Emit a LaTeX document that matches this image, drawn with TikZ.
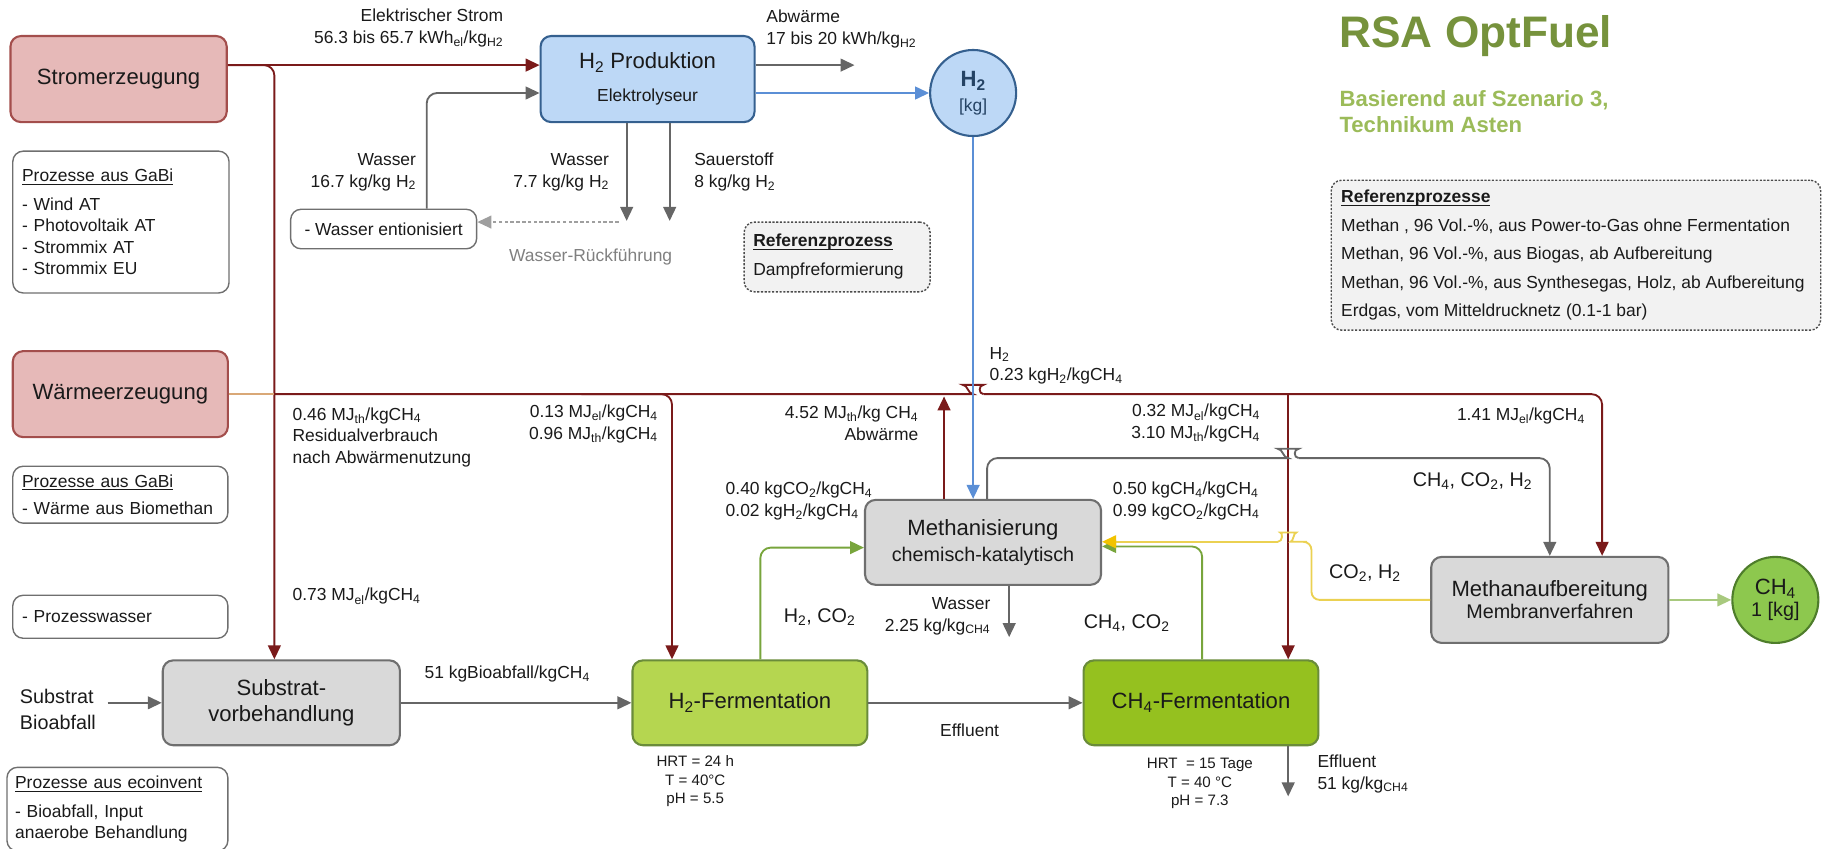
\documentclass[tikz,border=0pt]{standalone}
\usepackage{fontspec}
\setmainfont{Liberation Sans}
\usetikzlibrary{arrows.meta}
\definecolor{txt}{HTML}{1A1A1A}
\definecolor{redfill}{HTML}{E6B9B8}
\definecolor{reddraw}{HTML}{A34E4C}
\definecolor{brownln}{HTML}{7A1A1A}
\definecolor{tanln}{HTML}{D9A877}
\definecolor{bluefill}{HTML}{BDD8F6}
\definecolor{bluedraw}{HTML}{35608F}
\definecolor{blueln}{HTML}{5B8FD6}
\definecolor{grayfill}{HTML}{D9D9D9}
\definecolor{graydraw}{HTML}{6F6F6F}
\definecolor{grayln}{HTML}{666666}
\definecolor{ltgrayfill}{HTML}{F2F2F2}
\definecolor{h2green}{HTML}{B5D650}
\definecolor{ch4green}{HTML}{95C11F}
\definecolor{greendraw}{HTML}{6A8C3A}
\definecolor{greenln}{HTML}{78A53C}
\definecolor{yellowln}{HTML}{EBD152}
\definecolor{yellowhd}{HTML}{F2C300}
\definecolor{circgreen}{HTML}{8DC84E}
\definecolor{circgreendraw}{HTML}{4E7D2B}
\definecolor{ltgreenln}{HTML}{A8C97E}
\definecolor{titlegreen}{HTML}{76923C}
\definecolor{subgreen}{HTML}{9BBB59}
\definecolor{rueckgray}{HTML}{808080}
\newcommand\fl{\fontsize{15}{18.5}\selectfont}
\newcommand\fm{\fontsize{17}{20}\selectfont}
\newcommand\fb{\fontsize{19}{22}\selectfont}
\newcommand\fh{\fontsize{13}{16}\selectfont}
\newcommand\sbs[1]{\textsubscript{#1}}
\newcommand\myul[1]{\setbox0\hbox{#1}\rlap{\rule[-2.6pt]{\wd0}{1pt}}\box0}
\begin{document}
\begin{tikzpicture}[x=1pt,y=-1pt,
  every node/.style={text=txt},
  lbl/.style={font=\fl, inner sep=0pt},
  procbox/.style={draw, rounded corners=9pt, line width=1.8pt, inner sep=0pt, align=center, font=\fb},
  redbox/.style={procbox, fill=redfill, draw=reddraw},
  graybox/.style={procbox, fill=grayfill, draw=graydraw},
  infobox/.style={draw=graydraw, rounded corners=9pt, line width=1.2pt, fill=white, inner sep=0pt, align=left, font=\fl},
  refbox/.style={draw=black!70, dash pattern=on 1.8pt off 1.4pt, rounded corners=9pt, line width=1.2pt, fill=ltgrayfill, inner sep=0pt, align=left, font=\fl},
  conn/.style={line width=1.6pt, rounded corners=9pt},
  tip/.style={-{Triangle[length=12pt,width=11pt]}},
  brn/.style={conn, draw=brownln},
  gry/.style={conn, draw=grayln}]
\useasboundingbox (0,0) rectangle (1568,730);

% ---------- nodes ----------
\node[redbox, minimum width=186pt, minimum height=74pt] (strom) at (102,68) {Stromerzeugung};
\node[infobox, minimum width=186pt, minimum height=122pt, text width=170pt] (gabi1) at (104,191)
  {\myul{Prozesse aus GaBi}\\[6pt]- Wind AT\\- Photovoltaik AT\\- Strommix AT\\- Strommix EU};
\node[redbox, minimum width=185pt, minimum height=74pt] (warme) at (103.5,339) {Wärmeerzeugung};
\node[infobox, minimum width=185pt, minimum height=49pt, text width=169pt] (gabi2) at (103.5,425.5)
  {\myul{Prozesse aus GaBi}\\[5pt]- Wärme aus Biomethan};
\node[infobox, minimum width=185pt, minimum height=37pt, text width=169pt] (pw) at (103.5,530.5) {- Prozesswasser};
\node[infobox, minimum width=190pt, minimum height=72pt, text width=176pt] (eco) at (101,696)
  {\myul{Prozesse aus ecoinvent}\\[6pt]- Bioabfall, Input\\anaerobe Behandlung};

\node[procbox, fill=bluefill, draw=bluedraw, minimum width=184pt, minimum height=74pt] (h2p) at (557,68)
  {H\sbs{2} Produktion\\[6pt]{\fl Elektrolyseur}};
\node[circle, draw=bluedraw, fill=bluefill, line width=1.8pt, minimum size=74pt, inner sep=0pt, align=center,
  font=\fb, text=bluedraw!70!black] (h2c) at (837,80) {\textbf{H\sbs{2}}\\[-1pt]{\fl [kg]}};
\node[infobox, minimum width=160pt, minimum height=34pt] (went) at (330,197) {- Wasser entionisiert};
\node[refbox, minimum width=160pt, minimum height=60pt, text width=144pt] (refp) at (720,221)
  {\myul{\textbf{Referenzprozess}}\\[6.5pt]Dampfreformierung};

\node[anchor=west, inner sep=0pt, font=\fontsize{38}{42}\selectfont\bfseries, text=titlegreen] (title) at (1152,31) {RSA OptFuel};
\node[anchor=west, inner sep=0pt, align=left, font=\fontsize{19}{23}\selectfont\bfseries, text=subgreen] (subtitle) at (1152,96)
  {Basierend auf Szenario 3,\\Technikum Asten};
\node[refbox, minimum width=421pt, minimum height=129pt] (refs) at (1355.5,219.5) {};
\node[lbl, anchor=west, align=left] (refstxt) at ([xshift=9pt]refs.west)
  {\myul{\textbf{Referenzprozesse}}\\[6pt]Methan , 96 Vol.-\%, aus Power-to-Gas ohne Fermentation\\[6pt]Methan, 96 Vol.-\%, aus Biogas, ab Aufbereitung\\[6pt]Methan, 96 Vol.-\%, aus Synthesegas, Holz, ab Aufbereitung\\[6pt]Erdgas, vom Mitteldrucknetz (0.1-1 bar)};

\node[graybox, minimum width=203pt, minimum height=73pt] (meth) at (845.5,466.5)
  {Methanisierung\\[0pt]{\fm chemisch-katalytisch}};
\node[graybox, minimum width=204pt, minimum height=73pt] (sub) at (242,604.5) {Substrat-\\vorbehandlung};
\node[procbox, fill=h2green, draw=greendraw, minimum width=202pt, minimum height=73pt] (h2f) at (645,604.5) {H\sbs{2}-Fermentation};
\node[procbox, fill=ch4green, draw=greendraw, minimum width=202pt, minimum height=73pt] (ch4f) at (1033,604.5) {CH\sbs{4}-Fermentation};
\node[graybox, minimum width=204pt, minimum height=74pt] (maufb) at (1333,516)
  {Methanaufbereitung\\[-3pt]{\fm Membranverfahren}};
\node[circle, draw=circgreendraw, fill=circgreen, line width=1.8pt, minimum size=74pt, inner sep=0pt, align=center,
  font=\fb] (ch4c) at (1527,516) {CH\sbs{4}\\[-3pt]{\fm 1 [kg]}};

% ---------- labels ----------
\node[lbl, anchor=east, align=right] (lElek) at (433,24) {Elektrischer Strom\\[1pt]56.3 bis 65.7 kWh\sbs{el}/kg\sbs{H2}};
\node[lbl, anchor=west, align=left] (lAbw) at (659,25) {Abwärme\\[1pt]17 bis 20 kWh/kg\sbs{H2}};
\node[lbl, anchor=east, align=right] (lW1) at (358,148) {Wasser\\16.7 kg/kg H\sbs{2}};
\node[lbl, anchor=east, align=right] (lW2) at (524,148) {Wasser\\7.7 kg/kg H\sbs{2}};
\node[lbl, anchor=west, align=left] (lO2) at (597,148) {Sauerstoff\\8 kg/kg H\sbs{2}};
\node[lbl, text=rueckgray] (lRueck) at (508,221) {Wasser-Rückführung};
\node[lbl, anchor=west, align=left] (l046) at (251.5,376) {0.46 MJ\sbs{th}/kgCH\sbs{4}\\Residualverbrauch\\nach Abwärmenutzung};
\node[lbl, anchor=east, align=right] (l013) at (566,364.5) {0.13 MJ\sbs{el}/kgCH\sbs{4}\\0.96 MJ\sbs{th}/kgCH\sbs{4}};
\node[lbl, anchor=east, align=right] (l452) at (790,364) {4.52 MJ\sbs{th}/kg CH\sbs{4}\\Abwärme};
\node[lbl, anchor=west, align=left] (lH2) at (851,314.5) {H\sbs{2}\\0.23 kgH\sbs{2}/kgCH\sbs{4}};
\node[lbl, anchor=east, align=right] (l032) at (1084,364) {0.32 MJ\sbs{el}/kgCH\sbs{4}\\3.10 MJ\sbs{th}/kgCH\sbs{4}};
\node[lbl, anchor=west] (l141) at (1253,358) {1.41 MJ\sbs{el}/kgCH\sbs{4}};
\node[lbl, anchor=west, font=\fm] (lgas3) at (1215,414) {CH\sbs{4}, CO\sbs{2}, H\sbs{2}};
\node[lbl, anchor=west, align=left] (l040) at (624,431) {0.40 kgCO\sbs{2}/kgCH\sbs{4}\\0.02 kgH\sbs{2}/kgCH\sbs{4}};
\node[lbl, anchor=west, align=left] (l050) at (957,431) {0.50 kgCH\sbs{4}/kgCH\sbs{4}\\0.99 kgCO\sbs{2}/kgCH\sbs{4}};
\node[lbl, anchor=west, font=\fm] (lco2h2) at (1143,493) {CO\sbs{2}, H\sbs{2}};
\node[lbl, anchor=west] (l073) at (251.5,513) {0.73 MJ\sbs{el}/kgCH\sbs{4}};
\node[lbl, anchor=west, font=\fm] (lh2co2) at (674,531) {H\sbs{2}, CO\sbs{2}};
\node[lbl, anchor=east, align=right] (lWas3) at (852,530) {Wasser\\2.25 kg/kg\sbs{CH4}};
\node[lbl, anchor=west, font=\fm] (lch4co2) at (932,536) {CH\sbs{4}, CO\sbs{2}};
\node[lbl, anchor=west] (l51) at (365,580) {51 kgBioabfall/kgCH\sbs{4}};
\node[lbl, anchor=west, align=left, font=\fm] (lsubs) at (17,610) {Substrat\\[2pt]Bioabfall};
\node[lbl] (leff) at (834,628) {Effluent};
\node[lbl, font=\fh, align=center] (lhrt1) at (598,672) {HRT = 24 h\\T = 40°C\\pH = 5.5};
\node[lbl, font=\fh, align=center] (lhrt2) at (1032,674) {HRT~~= 15 Tage\\T = 40 °C\\pH = 7.3};
\node[lbl, anchor=west, align=left] (leff2) at (1133,665.5) {Effluent\\51 kg/kg\sbs{CH4}};

% ---------- connectors ----------
% electricity
\draw[brn, tip] (strom.east |- 0,56) -- (h2p.west |- 0,56);
\draw[brn, tip] (strom.east |- 0,56) -- (236,56) -- (sub.north -| 236,0);
% heat line
\draw[conn, draw=tanln] (warme.east) -- (236,339);
\draw[brn] (236,339) -- (828,339) .. controls (832.5,339) and (832.5,331) .. (837,331) .. controls (841.5,331) and (841.5,339) .. (846,339);
\draw[brn, tip] (846,339) -- (1378,339) -- (maufb.north -| 1378,0);
\draw[brn, tip] (500,339) -- (578,339) -- (h2f.north -| 578,0);
\draw[brn, tip] (1108,339) -- (ch4f.north -| 1108,0);
\draw[brn, tip] (meth.north -| 812,0) -- (812,341);
% water / electrolysis
\draw[gry, tip] (went.north -| 367,0) -- (367,80) -- (h2p.west |- 0,80);
\draw[gry, tip] (h2p.south -| 539,0) -- (539,190);
\draw[gry, tip] (h2p.south -| 576,0) -- (576,190);
\draw[line width=1.3pt, draw=gray!75, dash pattern=on 3pt off 2pt, -{Triangle[length=12pt,width=11pt]}] (532,191) -- (went.east |- 0,191);
\draw[gry, tip] (h2p.east |- 0,56) -- (735,56);
\draw[conn, draw=blueln, tip] (h2p.east |- h2c.center) -- (h2c.west);
\draw[conn, draw=blueln, tip] (h2c.south) -- (meth.north -| h2c.south);
% gas from Methanisierung to Aufbereitung
\draw[gry] (meth.north -| 849,0) -- (849,394) -- (1099,394) .. controls (1103.5,394) and (1103.5,386) .. (1108,386) .. controls (1112.5,386) and (1112.5,394) .. (1117,394);
\draw[gry, tip] (1117,394) -- (1333,394) -- (maufb.north);
% green gas lines
\draw[conn, draw=greenln, tip] (h2f.north -| 654,0) -- (654,471) -- (meth.west |- 0,471);
\draw[conn, draw=greenln, tip] (ch4f.north -| 1034,0) -- (1034,470) -- (meth.east |- 0,470);
% yellow recycle
\draw[line width=1.6pt, rounded corners=7pt, draw=yellowln] (maufb.west) -- (1128,516) -- (1128,466) -- (1117,466) .. controls (1112.5,466) and (1112.5,458) .. (1108,458) .. controls (1103.5,458) and (1103.5,466) .. (1099,466);
\draw[line width=1.6pt, draw=yellowln, -{Triangle[length=12pt,width=11pt,color=yellowhd]}] (1099,466) -- (meth.east |- 0,466);
% product
\draw[conn, draw=ltgreenln, tip] (maufb.east) -- (ch4c.west);
% bottom chain
\draw[gry, tip] (meth.south -| 868,0) -- (868,548);
\draw[gry, tip] ([xshift=10pt]lsubs.east |- sub.west) -- (sub.west);
\draw[gry, tip] (sub.east) -- (h2f.west);
\draw[gry, tip] (h2f.east) -- (ch4f.west);
\draw[gry, tip] (ch4f.south -| 1108,0) -- (1108,685);
\end{tikzpicture}
\end{document}
